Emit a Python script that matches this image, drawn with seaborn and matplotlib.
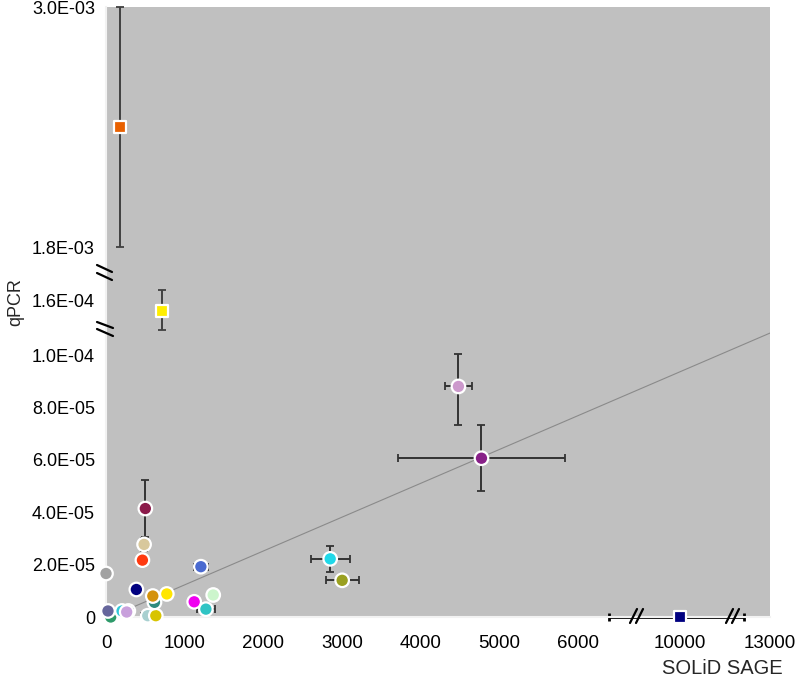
import numpy as np
import pandas as pd
import matplotlib
matplotlib.use("Agg")
import matplotlib.pyplot as plt
import seaborn as sns

# ---------------- data ----------------
circle_names = ["gray", "green", "slate", "cyan_a", "navy_b", "lavender", "bluegray", "mustard",
                "navy_a", "redorange", "tan", "maroon", "teal", "gold", "yellow",
                "royal", "magenta", "lightgreen", "turquoise", "cyan_b", "olive",
                "orchid", "purple"]
circle_x = [0, 60, 25, 204, 284, 263, 531, 633,
            386, 463, 484, 500, 616, 595, 773,
            1206, 1121, 1363, 1270, 2850, 3002,
            4480, 4773]
circle_y = [1.66e-5, 0.0, 2.3e-6, 2.3e-6, 2.3e-6, 1.9e-6, 0.5e-6, 0.5e-6,
            1.05e-5, 2.17e-5, 2.77e-5, 4.14e-5, 5.6e-6, 8.0e-6, 8.8e-6,
            1.92e-5, 5.8e-6, 8.4e-6, 3.0e-6, 2.22e-5, 1.40e-5,
            8.80e-5, 6.06e-5]
circle_xerr = [0, 0, 0, 0, 0, 0, 85, 0,
               0, 0, 0, 0, 0, 0, 0,
               90, 0, 0, 110, 250, 210,
               170, 1065]
circle_yerr = [0, 0, 0, 0, 0, 0, 0, 0,
               1.0e-6, 2.0e-6, 2.5e-6, 1.1e-5, 0, 0, 0,
               0, 0, 0, 0, 5.0e-6, 0,
               1.47e-5, 1.26e-5]
circle_colors = ["#a2a2a2", "#2e9a6a", "#66669c", "#30c8d8", "#1a1a80", "#c8a0dc", "#a8d0d0", "#d8c400",
                 "#000080", "#ff3a10", "#d8c89c", "#8b1a4a", "#2e8b7e", "#d4920c", "#ffe600",
                 "#4a6ad0", "#f000f0", "#ccf5cc", "#30c4c4", "#20d8e8", "#9aa020",
                 "#cc99cc", "#882088"]

square_names = ["orange_sq", "yellow_sq", "navy_sq"]
square_x = [178, 709, 10000]
square_y = [2.4e-3, 1.562e-4, 0.0]
square_xerr_lo = [0, 0, 2784]
square_xerr_hi = [0, 0, 2133]
square_yerr = [6.0e-4, 8.0e-6, 0]
square_colors = ["#e86000", "#ffee00", "#000080"]

fit_x = [50, 13000]
fit_y = [0.0, 1.43e-4]

x_ticks = [0, 1000, 2000, 3000, 4000, 5000, 6000, 10000, 13000]
x_ticklabels = ["0", "1000", "2000", "3000", "4000", "5000", "6000", "10000", "13000"]
y_ticks = [0, 2.0e-5, 4.0e-5, 6.0e-5, 8.0e-5, 1.0e-4, 1.6e-4, 1.8e-3, 3.0e-3]
y_ticklabels = ["0", "2.0E-05", "4.0E-05", "6.0E-05", "8.0E-05", "1.0E-04", "1.6E-04", "1.8E-03", "3.0E-03"]

# broken-axis knots (value -> display units)
x_knots = [0, 6000, 10000, 13000]
x_disp = [0, 472, 574, 664]
y_knots = [0, 1.0e-4, 1.49e-4, 1.698e-4, 1.8e-3, 3.0e-3]
y_disp = [0, 262, 287, 342, 370, 610]


def piecewise(k, d):
    k = np.asarray(k, float)
    d = np.asarray(d, float)

    def make(a, b):
        def f(v):
            v = np.asarray(v, float)
            out = np.interp(v, a, b)
            lo_s = (b[1] - b[0]) / (a[1] - a[0])
            hi_s = (b[-1] - b[-2]) / (a[-1] - a[-2])
            out = np.where(v < a[0], b[0] + (v - a[0]) * lo_s, out)
            out = np.where(v > a[-1], b[-1] + (v - a[-1]) * hi_s, out)
            return out
        return f
    return make(k, d), make(d, k)


# ---------------- style ----------------
sns.set_style("white")
plt.rcParams["font.family"] = ["Liberation Sans", "DejaVu Sans"]

fig = plt.figure(figsize=(8.0, 6.79), dpi=100)
ax = fig.add_axes([106 / 800, 62 / 679, 664 / 800, 610 / 679])
ax.set_facecolor("#c0c0c0")

ax.set_xscale("function", functions=piecewise(x_knots, x_disp))
ax.set_yscale("function", functions=piecewise(y_knots, y_disp))

# regression line
ax.plot(fit_x, fit_y, color="#8a8a8a", lw=0.8, zorder=1.5)

# error bars
ecol = "#333333"
for xi, yi, xe, ye in zip(circle_x, circle_y, circle_xerr, circle_yerr):
    if xe or ye:
        ax.errorbar(xi, yi, xerr=xe if xe else None, yerr=ye if ye else None, fmt="none",
                    ecolor=ecol, elinewidth=1.4, capsize=3, capthick=1.3, zorder=2)
for xi, yi, xl, xh, ye in zip(square_x, square_y, square_xerr_lo, square_xerr_hi, square_yerr):
    if xl or xh:
        ax.errorbar(xi, yi, xerr=[[xl], [xh]], fmt="none", ecolor="black",
                    elinewidth=2.0, capsize=3, capthick=2.0, zorder=2, clip_on=False)
    if ye:
        ax.errorbar(xi, yi, yerr=ye, fmt="none", ecolor="#404040",
                    elinewidth=1.4, capsize=3, capthick=1.3, zorder=2, clip_on=False)

circ = pd.DataFrame({"name": circle_names, "x": circle_x, "y": circle_y})
sq = pd.DataFrame({"name": square_names, "x": square_x, "y": square_y})

sns.scatterplot(data=circ, x="x", y="y", hue="name",
                palette=dict(zip(circle_names, circle_colors)),
                marker="o", s=95, edgecolor="white", linewidth=1.6,
                legend=False, ax=ax, zorder=3, clip_on=False)
sns.scatterplot(data=sq, x="x", y="y", hue="name",
                palette=dict(zip(square_names, square_colors)),
                marker="s", s=80, edgecolor="white", linewidth=1.6,
                legend=False, ax=ax, zorder=3, clip_on=False)

ax.set_xlim(0, 13000)
ax.set_ylim(0, 3.0e-3)
ax.set_xticks(x_ticks)
ax.set_xticklabels(x_ticklabels)
ax.set_yticks(y_ticks)
ax.set_yticklabels(y_ticklabels)
ax.minorticks_off()
ax.tick_params(axis="y", direction="out", length=6, width=1, color="#a8a8a8",
               labelsize=13, pad=2, labelcolor="black")
ax.tick_params(axis="x", direction="inout", length=8, width=1, color="#d8d8d8",
               labelsize=13.5, pad=9, labelcolor="black")
ax.set_xlabel("")
ax.set_ylabel("")

for side in ["top", "right"]:
    ax.spines[side].set_visible(False)
for side in ["left", "bottom"]:
    ax.spines[side].set_color("#f2f2f2")
    ax.spines[side].set_linewidth(1.5)


# break marks (pixel-based helper in axes fraction)
def pax(px, py):
    return (px - 106) / 664, (617 - py) / 610


for (x0, y0, x1, y1) in [(97, 265, 112, 272), (97, 273, 112, 280),
                         (97, 322, 113, 328), (97, 329, 113, 336)]:
    a = pax(x0, y0)
    b = pax(x1, y1)
    ax.plot([a[0], b[0]], [a[1], b[1]], color="black", lw=1.6,
            transform=ax.transAxes, clip_on=False, zorder=4)

for xc in [637, 733]:
    for dx in [-3.5, 2.5]:
        a = pax(xc + dx - 3.5, 623)
        b = pax(xc + dx + 3.5, 609)
        ax.plot([a[0], b[0]], [a[1], b[1]], color="black", lw=1.6,
                transform=ax.transAxes, clip_on=False, zorder=4)

fig.text(722 / 800, 1 - 668 / 679, "SOLiD SAGE", ha="center", va="center", fontsize=14.5)
fig.text(16 / 800, 1 - 302 / 679, "qPCR", ha="center", va="center", rotation=90, fontsize=13)

fig.savefig("out.png", dpi=100, facecolor="white")
